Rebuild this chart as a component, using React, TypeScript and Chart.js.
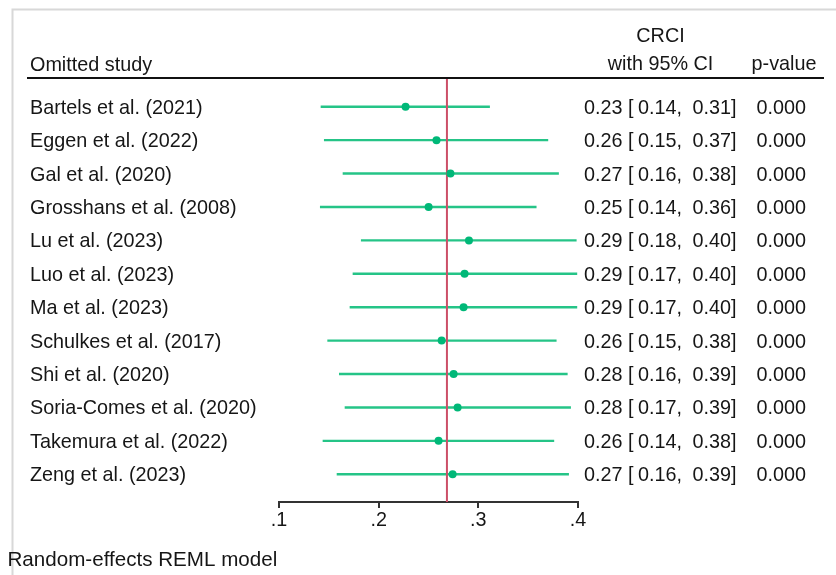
import React, { useEffect, useRef } from "react";
import { Chart, registerables } from "chart.js";

Chart.register(...registerables);

// ---- data ----
const studies = [
  "Bartels et al. (2021)",
  "Eggen et al. (2022)",
  "Gal et al. (2020)",
  "Grosshans et al. (2008)",
  "Lu et al. (2023)",
  "Luo et al. (2023)",
  "Ma et al. (2023)",
  "Schulkes et al. (2017)",
  "Shi et al. (2020)",
  "Soria-Comes et al. (2020)",
  "Takemura et al. (2022)",
  "Zeng et al. (2023)",
];
const estimates = [0.227, 0.258, 0.272, 0.2501, 0.2906, 0.2862, 0.2852, 0.2632, 0.2752, 0.2792, 0.2601, 0.2742];
const lowerCI = [0.1418, 0.1451, 0.1639, 0.1411, 0.1822, 0.1739, 0.1709, 0.1485, 0.1602, 0.1659, 0.1438, 0.1579];
const upperCI = [0.3116, 0.3701, 0.3808, 0.3584, 0.3986, 0.3992, 0.3992, 0.3785, 0.3896, 0.3929, 0.3761, 0.3909];
const estLabels = ["0.23", "0.26", "0.27", "0.25", "0.29", "0.29", "0.29", "0.26", "0.28", "0.28", "0.26", "0.27"];
const lowerLabels = ["0.14", "0.15", "0.16", "0.14", "0.18", "0.17", "0.17", "0.15", "0.16", "0.17", "0.14", "0.16"];
const upperLabels = ["0.31", "0.37", "0.38", "0.36", "0.40", "0.40", "0.40", "0.38", "0.39", "0.39", "0.38", "0.39"];
const pValues = ["0.000", "0.000", "0.000", "0.000", "0.000", "0.000", "0.000", "0.000", "0.000", "0.000", "0.000", "0.000"];
const overallEstimate = 0.2685;
const xTickValues = [0.1, 0.2, 0.3, 0.4];
const xTickLabels = [".1", ".2", ".3", ".4"];
const headerStudy = "Omitted study";
const headerCI1 = "CRCI";
const headerCI2 = "with 95% CI";
const headerP = "p-value";
const footnote = "Random-effects REML model";

const Y_MIN = -0.86;
const Y_MAX = 11.83;

const FONT_FAMILY = '"Liberation Sans", Arial, Helvetica, sans-serif';
const FONT_SIZE = 19.8;
const FONT = `${FONT_SIZE}px ${FONT_FAMILY}`;
const TEXT = "#161616";
const GREEN_LINE = "#25c487";
const GREEN_DOT = "#00b878";
const RED = "#cc4f68";

const textPlugin = {
  id: "forestText",
  afterDraw(chart: any) {
    const ctx = chart.ctx as CanvasRenderingContext2D;
    const y = chart.scales.y;
    ctx.save();
    // frame
    ctx.strokeStyle = "#d8d8d8";
    ctx.lineWidth = 2;
    ctx.beginPath();
    ctx.moveTo(12.5, 575);
    ctx.lineTo(12.5, 9.5);
    ctx.lineTo(836, 9.5);
    ctx.stroke();

    // header line
    ctx.strokeStyle = "#111";
    ctx.lineWidth = 2;
    ctx.beginPath();
    ctx.moveTo(27, 78);
    ctx.lineTo(824, 78);
    ctx.stroke();

    ctx.font = FONT;
    ctx.fillStyle = TEXT;
    ctx.textBaseline = "alphabetic";
    ctx.textAlign = "left";
    ctx.fillText(headerStudy, 30, 70.5);
    ctx.textAlign = "center";
    ctx.fillText(headerCI1, 660.5, 42);
    ctx.fillText(headerCI2, 660.5, 69.5);
    ctx.fillText(headerP, 784, 69.5);

    ctx.textAlign = "left";
    studies.forEach((s, i) => {
      const py = y.getPixelForValue(i) + 7;
      ctx.fillText(s, 30, py);
      ctx.fillText(estLabels[i], 584, py);
      ctx.fillText("[", 628, py);
      ctx.fillText(lowerLabels[i] + ",", 638, py);
      ctx.fillText(upperLabels[i] + "]", 692.5, py);
      ctx.fillText(pValues[i], 756.5, py);
    });

    ctx.font = `20.6px ${FONT_FAMILY}`;
    ctx.fillText(footnote, 7.5, 566);
    ctx.restore();
  },
};

const refLinePlugin = {
  id: "refLine",
  beforeDatasetDraw(chart: any, args: any) {
    // draw the reference line right before the point dataset (on top of CI lines)
    if (args.index !== 0) return;
    const ctx = chart.ctx as CanvasRenderingContext2D;
    const x = chart.scales.x.getPixelForValue(overallEstimate);
    const { top, bottom } = chart.chartArea;
    ctx.save();
    ctx.strokeStyle = RED;
    ctx.lineWidth = 2;
    ctx.beginPath();
    ctx.moveTo(x, top);
    ctx.lineTo(x, bottom);
    ctx.stroke();
    ctx.restore();
  },
};

export default function App() {
  const ref = useRef<HTMLCanvasElement | null>(null);

  useEffect(() => {
    if (!ref.current) return;
    const pointsDataset = {
      label: "estimate",
      data: estimates.map((v, i) => ({ x: v, y: i })),
      pointRadius: 4,
      pointHoverRadius: 4,
      pointBackgroundColor: GREEN_DOT,
      pointBorderWidth: 0,
      showLine: false,
      order: 0,
      clip: false as any,
    };
    const ciDatasets = studies.map((s, i) => ({
      label: s,
      data: [
        { x: lowerCI[i], y: i },
        { x: upperCI[i], y: i },
      ],
      showLine: true,
      borderColor: GREEN_LINE,
      borderWidth: 2.4,
      pointRadius: 0,
      order: 1,
      clip: false as any,
    }));

    const chart = new Chart(ref.current, {
      type: "scatter",
      data: { datasets: [pointsDataset, ...ciDatasets] as any },
      options: {
        responsive: false,
        animation: false,
        events: [],
        layout: { padding: { left: 279, right: 258, top: 78, bottom: 43 } },
        plugins: { legend: { display: false }, tooltip: { enabled: false } },
        scales: {
          x: {
            type: "linear",
            min: 0.1,
            max: 0.4,
            afterBuildTicks: (scale: any) => {
              scale.ticks = xTickValues.map((v) => ({ value: v }));
            },
            afterFit: (scale: any) => {
              scale.height = 30;
            },
            ticks: {
              color: TEXT,
              font: { family: FONT_FAMILY, size: FONT_SIZE },
              padding: 1,
              maxRotation: 0,
              autoSkip: false,
              callback: (v: any) => {
                const idx = xTickValues.findIndex((t) => Math.abs(t - Number(v)) < 1e-9);
                return idx >= 0 ? xTickLabels[idx] : "";
              },
            },
            grid: {
              drawOnChartArea: false,
              drawTicks: true,
              tickLength: 6,
              color: "#333",
              lineWidth: 2,
            },
            border: { display: true, color: "#333", width: 2 },
          },
          y: {
            type: "linear",
            display: false,
            reverse: true,
            min: Y_MIN,
            max: Y_MAX,
          },
        },
      },
      plugins: [refLinePlugin, textPlugin],
    });
    return () => chart.destroy();
  }, []);

  return (
    <div style={{ position: "absolute", left: 0, top: 0, width: 836, height: 575, background: "#fff" }}>
      <canvas ref={ref} width={836} height={575} style={{ width: 836, height: 575, display: "block" }} />
    </div>
  );
}
